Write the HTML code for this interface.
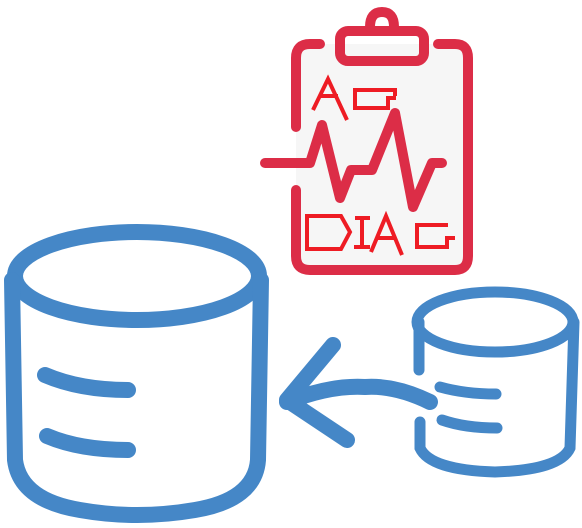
<!DOCTYPE html>
<html><head><style>
html,body{margin:0;padding:0;background:#fff;}
svg{display:block}
</style></head><body>
<svg width="582" height="528" viewBox="0 0 582 528" xmlns="http://www.w3.org/2000/svg">
<rect width="582" height="528" fill="#fff"/>
<!-- clipboard -->
<rect x="296" y="44" width="172" height="226" fill="#f6f6f6"/>
<g fill="none" stroke="#dc2d47" stroke-width="10" stroke-linecap="round" stroke-linejoin="round">
  <path d="M296 127 V58 Q296 44 310 44 H320"/>
  <path d="M438 44 H455 Q468 44 468 58 V256 Q468 270 455 270 H310 Q296 270 296 256 V190"/>
  <rect x="340" y="31" width="84" height="30" rx="8"/>
  <path d="M370 27 Q370 12 382 12 Q394 12 394 27"/>
  <path d="M265 163 H310 L322 125 L340 198 L351 170 H372 L395 113 L413 207 L432 163 H442"/>
</g>
<g fill="none" stroke="#ee1c24" stroke-width="4">
  <path d="M313 110 L328 79 L347 120 M320 96 H338"/>
  <path d="M395 96 V90 H355 V108 H388 V98 H396"/>
  <path d="M307 216 V249 H341 L350 232 L341 216 Z"/>
  <path d="M355 218 H370 M362 218 V247 M354 247 H370"/>
  <path d="M371 252 L386 216 L402 255 M378 238 H395"/>
  <path d="M448 225 H417 V247 H447 V238 H455"/>
</g>
<!-- big db -->
<g fill="none" stroke="#4587c7" stroke-width="16" stroke-linecap="round">
  <ellipse cx="137" cy="276" rx="122" ry="44"/>
  <path d="M12 280 L15 460 Q20 500 80 510 Q137 520 195 510 Q255 500 258 460 L261 280"/>
  <path d="M45 375 Q80 390 128 390"/>
  <path d="M47 436 Q80 450 128 450"/>
</g>
<!-- small db -->
<g fill="none" stroke="#4587c7" stroke-width="11" stroke-linecap="round">
  <ellipse cx="495" cy="322" rx="78" ry="30"/>
  <path d="M419 322 V370 M420 422 V448 Q430 470 495 472 Q560 470 570 448 L574 322"/>
  <path d="M440 387 Q465 394 496 394"/>
  <path d="M442 420 Q465 428 497 428"/>
</g>
<!-- arrow -->
<g fill="none" stroke="#4587c7" stroke-width="16" stroke-linecap="round" stroke-linejoin="round">
  <path d="M430 402 Q395 385 365 387 Q330 385 287 402"/>
  <path d="M333 345 L287 400 L347 440"/>
</g>
</svg>
</body></html>
